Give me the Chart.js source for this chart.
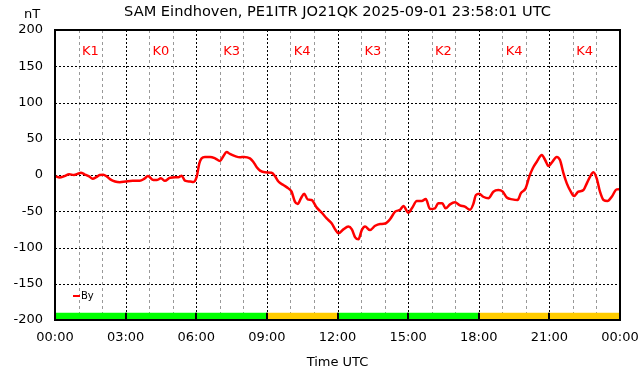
<!DOCTYPE html>
<html lang="en">
<head>
<meta charset="UTF-8">
<title>SAM Eindhoven By</title>
<script src="https://cdn.jsdelivr.net/npm/chart.js"></script>
<style>
  html, body { margin: 0; padding: 0; background: #fff; }
</style>
</head>
<body>
<canvas id="myChart" width="642" height="376"></canvas>
<script>
// magnetometer By component, time in hours UTC
const hours = [0, 0.2, 0.4, 0.6, 0.8, 1.0, 1.1, 1.25, 1.45, 1.6, 1.75, 1.9, 2.05, 2.2, 2.35, 2.55, 2.75, 3.0, 3.3, 3.6, 3.8, 3.95,
  4.18, 4.32, 4.5, 4.67, 4.89, 5.1, 5.24, 5.38, 5.52, 5.74, 5.88, 6.02, 6.13, 6.23, 6.37, 6.59, 6.8, 7.01, 7.15, 7.29, 7.43, 7.65, 7.86, 8.03,
  8.28, 8.42, 8.57, 8.71, 8.92, 9.2, 9.34, 9.49, 9.7, 9.91, 10.05, 10.19, 10.31, 10.45, 10.59, 10.73, 10.9, 11.12, 11.33, 11.54, 11.75, 11.92, 12.04,
  12.25, 12.46, 12.61, 12.75, 12.89, 13.03, 13.17, 13.38, 13.6, 13.81, 14.02, 14.23, 14.45, 14.66, 14.8, 15.01, 15.16, 15.37, 15.58, 15.75, 15.93,
  16.14, 16.28, 16.45, 16.59, 16.78, 16.99, 17.2, 17.41, 17.63, 17.77, 17.88, 18.02, 18.19, 18.41, 18.62, 18.83, 19.02, 19.19, 19.43, 19.65, 19.79, 19.99, 20.15,
  20.29, 20.46, 20.68, 20.82, 20.96, 21.1, 21.31, 21.45, 21.6, 21.74, 21.91, 22.05, 22.23, 22.45, 22.59, 22.73, 22.87, 23.01, 23.15, 23.3, 23.47, 23.65, 23.86, 24];
const byValues = [-1.5, -3.5, -1.5, 1, 0, 2, 3, 1, -2, -5, -3, 0, 0.5, -2, -6, -9, -10, -9, -8, -8, -5, -1.5,
  -7, -7, -4.6, -8, -3.7, -3.2, -3.2, -1, -7.8, -9, -9.7, -2.3, 16, 23, 25, 25, 23, 19.3, 26, 31.7, 29, 26, 24.4, 25,
  23, 18.4, 10.6, 6, 3.7, 3.2, -1.4, -9, -13.8, -18.4, -23, -36.8, -40, -32, -26, -33.6, -34.5, -45, -52, -59.8, -66.7, -75.9, -80.5,
  -75, -71, -75, -86, -88.7, -76, -71, -76, -70, -67.6, -67, -61, -50.6, -48, -42.8, -52, -46, -36, -36, -33, -47,
  -46, -39, -39, -46, -40.5, -37.7, -42, -43.7, -48, -40, -27.6, -26, -30, -32, -23, -20.7, -23, -31, -33.6, -34.5, -25, -18.4, -2,
  9, 18, 27.6, 20.7, 12.4, 17, 25, 20.7, 2.3, -11.5, -23, -29, -23, -20.7, -11.5, -2.3, 3.7, -4.6, -23, -34.5, -36, -30, -19.8, -19.5];

// K index per 3 hour block
const kIndex = [1, 0, 3, 4, 3, 2, 4, 4];
const xTickLabels = ['00:00', '03:00', '06:00', '09:00', '12:00', '15:00', '18:00', '21:00', '00:00'];

const FONT = 'DejaVu Sans';

const decoPlugin = {
  id: 'deco',
  beforeDatasetsDraw(chart) {
    const {ctx, chartArea: a, scales: {x, y}} = chart;
    ctx.save();
    ctx.lineWidth = 1;
    // hourly verticals
    for (let h = 1; h < 24; h++) {
      const px = Math.round(x.getPixelForValue(h)) + 0.5;
      ctx.strokeStyle = h % 3 === 0 ? '#000' : '#999';
      ctx.setLineDash(h % 3 === 0 ? [2, 2] : [3, 3]);
      ctx.beginPath();
      ctx.moveTo(px, a.top);
      ctx.lineTo(px, a.bottom);
      ctx.stroke();
    }
    // horizontals
    ctx.strokeStyle = '#000';
    ctx.setLineDash([2, 2]);
    for (let v = -150; v <= 150; v += 50) {
      const py = Math.round(y.getPixelForValue(v)) + 0.5;
      ctx.beginPath();
      ctx.moveTo(a.left, py);
      ctx.lineTo(a.right, py);
      ctx.stroke();
    }
    ctx.setLineDash([]);
    // K index bars
    const yTop = y.getPixelForValue(-190);
    const yBot = y.getPixelForValue(-200);
    kIndex.forEach((k, i) => {
      const x0 = x.getPixelForValue(i * 3);
      const x1 = x.getPixelForValue(i * 3 + 3);
      ctx.fillStyle = k >= 4 ? '#ffcc00' : '#00ff00';
      ctx.fillRect(x0, yTop, x1 - x0, yBot - yTop);
      if (i > 0) {
        ctx.strokeStyle = '#000';
        ctx.lineWidth = 2;
        ctx.beginPath();
        ctx.moveTo(Math.round(x0), yTop);
        ctx.lineTo(Math.round(x0), yBot);
        ctx.stroke();
      }
    });
    ctx.restore();
  },
  afterDatasetsDraw(chart) {
    const {ctx, chartArea: a, scales: {x, y}} = chart;
    ctx.save();
    // border
    ctx.strokeStyle = '#000';
    ctx.lineWidth = 2;
    ctx.strokeRect(a.left, a.top, a.right - a.left, a.bottom - a.top);
    // title
    ctx.fillStyle = '#000';
    ctx.font = '14.6px "' + FONT + '"';
    ctx.textAlign = 'center';
    ctx.textBaseline = 'middle';
    ctx.fillText('SAM Eindhoven, PE1ITR JO21QK 2025-09-01 23:58:01 UTC', (a.left + a.right) / 2, 12);
    // unit
    ctx.font = '13px "' + FONT + '"';
    ctx.fillText('nT', 32, 15);
    // K labels
    ctx.fillStyle = '#ff0000';
    kIndex.forEach((k, i) => {
      ctx.fillText('K' + k, x.getPixelForValue(i * 3 + 1.5), y.getPixelForValue(170));
    });
    // legend
    ctx.strokeStyle = '#ff0000';
    ctx.lineWidth = 2;
    ctx.beginPath();
    ctx.moveTo(73, 296);
    ctx.lineTo(80, 296);
    ctx.stroke();
    ctx.fillStyle = '#000';
    ctx.font = '10px "' + FONT + '"';
    ctx.textAlign = 'left';
    ctx.fillText('By', 81, 296);
    ctx.restore();
  }
};

const ctx = document.getElementById('myChart').getContext('2d');
const myChart = new Chart(ctx, {
  type: 'line',
  data: {
    datasets: [{
      label: 'By',
      data: hours.map((h, i) => ({x: h, y: byValues[i]})),
      borderColor: '#ff0000',
      borderWidth: 2.5,
      pointRadius: 0,
      cubicInterpolationMode: 'monotone',
      fill: false
    }]
  },
  options: {
    responsive: false,
    animation: false,
    layout: { padding: { top: 30, right: 22, left: 0, bottom: 0 } },
    plugins: { legend: { display: false }, title: { display: false }, tooltip: { enabled: false } },
    scales: {
      x: {
        type: 'linear',
        min: 0,
        max: 24,
        grid: { display: false, drawTicks: false },
        border: { display: false },
        ticks: {
          stepSize: 3,
          padding: 10,
          color: '#000',
          font: { family: FONT, size: 13 },
          maxRotation: 0,
          callback: v => xTickLabels[v / 3]
        },
        title: { display: true, text: 'Time UTC', color: '#000', font: { family: FONT, size: 13 }, padding: { top: 3, bottom: 6 } },
        afterFit: s => { s.height = 56; s.paddingLeft = 0; s.paddingRight = 0; }
      },
      y: {
        min: -200,
        max: 200,
        grid: { display: false, drawTicks: false },
        border: { display: false },
        ticks: { stepSize: 50, padding: 12, color: '#000', font: { family: FONT, size: 13 } },
        afterFit: s => { s.width = 55; s.paddingTop = 0; s.paddingBottom = 0; }
      }
    }
  },
  plugins: [decoPlugin]
});
</script>
</body>
</html>
